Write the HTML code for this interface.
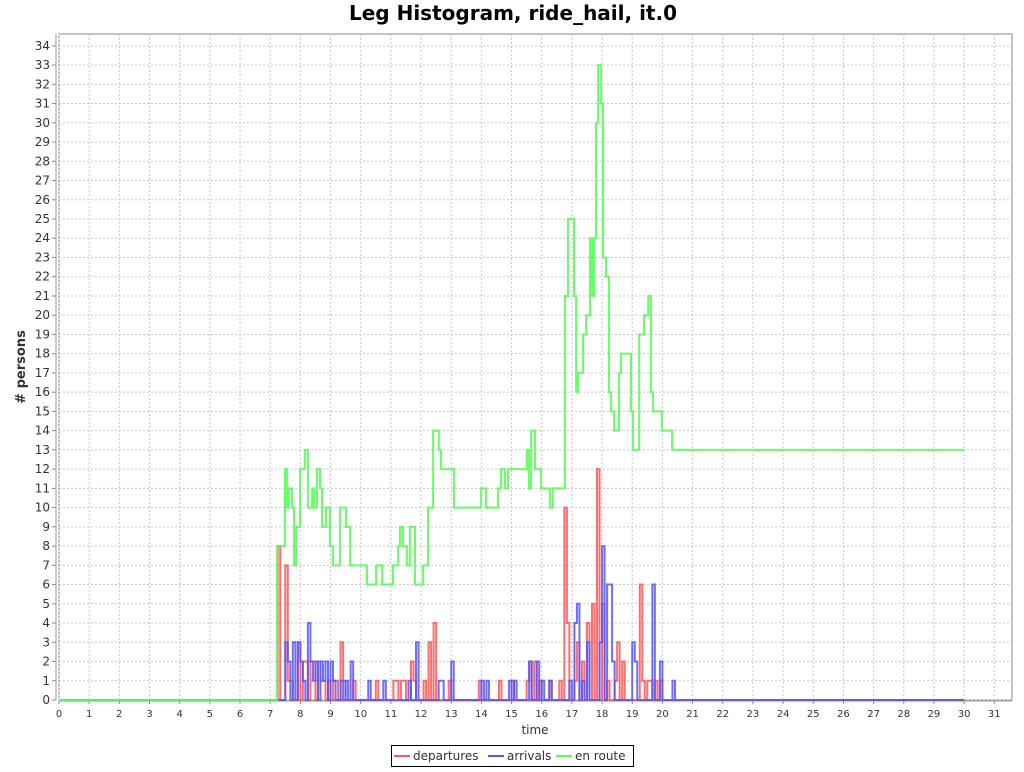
<!DOCTYPE html>
<html><head><meta charset="utf-8"><style>
body{margin:0;background:#fff;font-family:"DejaVu Sans",sans-serif}
svg text{font-family:"DejaVu Sans",sans-serif}
</style></head><body>
<svg id="c" width="1024" height="768" viewBox="0 0 1024 768">
<text x="513" y="20" text-anchor="middle" font-size="20" font-weight="bold" fill="#000">Leg Histogram, ride_hail, it.0</text>
<rect x="59" y="34" width="953" height="666" fill="#fff" stroke="#888" stroke-width="1"/>
<g id="grid"></g>
<g id="axes"></g>
<g id="series"></g>
<text x="535" y="734" text-anchor="middle" font-size="12" fill="#333">time</text>
<text transform="translate(25,367) rotate(-90)" text-anchor="middle" font-size="13" font-weight="bold" fill="#333"># persons</text>
<g>
<rect x="391.5" y="745.5" width="242" height="21" fill="#fff" stroke="#000"/>
<g><line x1="394" y1="756" x2="410" y2="756" stroke="#ff5555" stroke-width="2"/><text x="413" y="760" font-size="12" fill="#333">departures</text></g>
<g><line x1="488" y1="756" x2="504" y2="756" stroke="#5555ff" stroke-width="2"/><text x="507" y="760" font-size="12" fill="#333">arrivals</text></g>
<g><line x1="556" y1="756" x2="572" y2="756" stroke="#55ff55" stroke-width="2"/><text x="575" y="760" font-size="12" fill="#333">en route</text></g>
</g>
</svg>
<script>
const depTimes=[7.23,7.46,7.59,7.69,7.89,7.95,8.05,8.15,8.32,8.42,8.55,8.65,8.75,8.92,9.08,9.18,9.31,9.41,9.74,10.51,11.07,11.17,11.30,11.40,11.63,11.73,12.06,12.23,12.40,12.89,13.95,14.55,15.02,15.51,15.58,15.71,15.88,16.21,16.61,16.74,16.84,17.07,17.20,17.33,17.50,17.63,17.83,17.96,18.13,18.40,18.53,18.69,19.25,19.36,19.49,19.62,19.75,19.92];
const depValues=[8,7,1,1,2,3,2,2,2,2,2,1,1,1,1,1,3,1,1,1,1,1,1,1,2,1,1,3,4,1,1,1,1,1,2,2,1,1,1,10,4,1,3,2,4,5,12,5,1,1,3,2,6,1,1,1,1,1];
const arrTimes=[7.46,7.62,7.79,7.89,7.99,8.09,8.22,8.32,8.42,8.52,8.65,8.75,8.85,8.98,9.08,9.31,9.48,9.65,10.21,10.74,11.57,11.80,12.56,12.66,13.03,14.02,14.15,14.92,15.05,15.58,15.81,15.98,16.27,16.94,17.10,17.17,17.37,17.53,17.90,18.03,18.16,18.26,18.36,18.99,19.09,19.66,19.95,20.32];
const arrValues=[3,2,3,3,2,1,4,2,1,2,2,1,2,2,1,1,1,2,1,1,1,3,1,1,2,1,1,1,1,2,2,1,1,1,4,5,1,3,3,8,6,6,2,3,2,6,2,1];
const enrTimes=[0,7.23,7.49,7.56,7.62,7.72,7.79,7.86,7.99,8.15,8.25,8.39,8.45,8.55,8.65,8.72,8.85,8.98,9.08,9.31,9.51,9.65,10.21,10.51,10.71,11.07,11.24,11.30,11.40,11.53,11.63,11.80,12.07,12.23,12.40,12.59,12.66,13.09,13.99,14.15,14.55,14.65,14.78,14.88,15.51,15.58,15.65,15.78,15.98,16.27,16.37,16.77,16.87,17.07,17.14,17.20,17.37,17.47,17.60,17.67,17.73,17.80,17.87,17.97,18.03,18.13,18.23,18.30,18.40,18.56,18.63,18.96,19.03,19.23,19.39,19.53,19.62,19.69,19.98,20.32];
const enrValues=[0,8,12,10,11,10,7,9,12,13,10,11,10,12,11,9,10,8,7,10,9,7,6,7,6,7,8,9,8,7,9,6,7,10,14,13,12,10,11,10,11,12,11,12,13,11,14,12,11,10,11,21,25,21,16,17,19,20,24,21,24,30,33,31,23,22,16,15,14,17,18,15,13,19,20,21,16,15,14,13];
const xTicks=[0,1,2,3,4,5,6,7,8,9,10,11,12,13,14,15,16,17,18,19,20,21,22,23,24,25,26,27,28,29,30,31];
const yTicks=[0,1,2,3,4,5,6,7,8,9,10,11,12,13,14,15,16,17,18,19,20,21,22,23,24,25,26,27,28,29,30,31,32,33,34];
const endTime=30;
const NS='http://www.w3.org/2000/svg';
const X=t=>59+t*30.17, Y=v=>700-v*19.24;
function mk(tag,attrs,parent){const e=document.createElementNS(NS,tag);for(const k in attrs)e.setAttribute(k,attrs[k]);parent.appendChild(e);return e;}
const grid=document.getElementById('grid'),axes=document.getElementById('axes'),ser=document.getElementById('series');
xTicks.forEach(t=>{
  const gl=mk('line',{x1:X(t),x2:X(t),y1:34,y2:700,stroke:'#c8c8c8','stroke-dasharray':'2,2','stroke-width':1},grid);
  
  
  mk('line',{x1:X(t),x2:X(t),y1:701,y2:704,stroke:'#888'},axes);
  const tx=mk('text',{x:X(t),y:717,'text-anchor':'middle','font-size':10,fill:'#333'},axes);
  tx.textContent=t;
  
  
});
yTicks.forEach(v=>{
  const gl=mk('line',{x1:59,x2:1012,y1:Y(v),y2:Y(v),stroke:'#c8c8c8','stroke-dasharray':'2,2','stroke-width':1},grid);
  
  
  mk('line',{x1:52,x2:56,y1:Y(v),y2:Y(v),stroke:'#888'},axes);
  const tx=mk('text',{x:50,y:Y(v)+4,'text-anchor':'end','font-size':12,fill:'#333'},axes);
  tx.textContent=v;
  
  
});
mk('line',{x1:56,x2:56,y1:34,y2:700,stroke:'#999'},axes);
mk('line',{x1:59,x2:1012,y1:701,y2:701,stroke:'#999'},axes);
function histPath(times,vals){
  const n=endTime*12;const bins=new Array(n).fill(0);
  times.forEach((t,i)=>{const b=Math.round(t*12);if(b>=0&&b<n)bins[b]=vals[i];});
  let d='M'+X(0)+','+Y(bins[0]);
  for(let i=0;i<n;i++){d+=' V'+Y(bins[i])+' H'+X((i+1)/12);}
  return d;
}
function stepPath(times,vals){
  let d='M'+X(times[0])+','+Y(vals[0]);
  for(let i=0;i<times.length;i++){const nt=i+1<times.length?times[i+1]:endTime;d+=' V'+Y(vals[i])+' H'+X(nt);}
  return d;
}
const p1=mk('path',{d:histPath(depTimes,depValues),fill:'none',stroke:'#ff5555','stroke-width':2,'stroke-opacity':0.85},ser);


const p2=mk('path',{d:histPath(arrTimes,arrValues),fill:'none',stroke:'#5555ff','stroke-width':2,'stroke-opacity':0.85},ser);


const p3=mk('path',{d:stepPath(enrTimes,enrValues),fill:'none',stroke:'#55ff55','stroke-width':2,'stroke-opacity':0.9},ser);


</script>
</body></html>
